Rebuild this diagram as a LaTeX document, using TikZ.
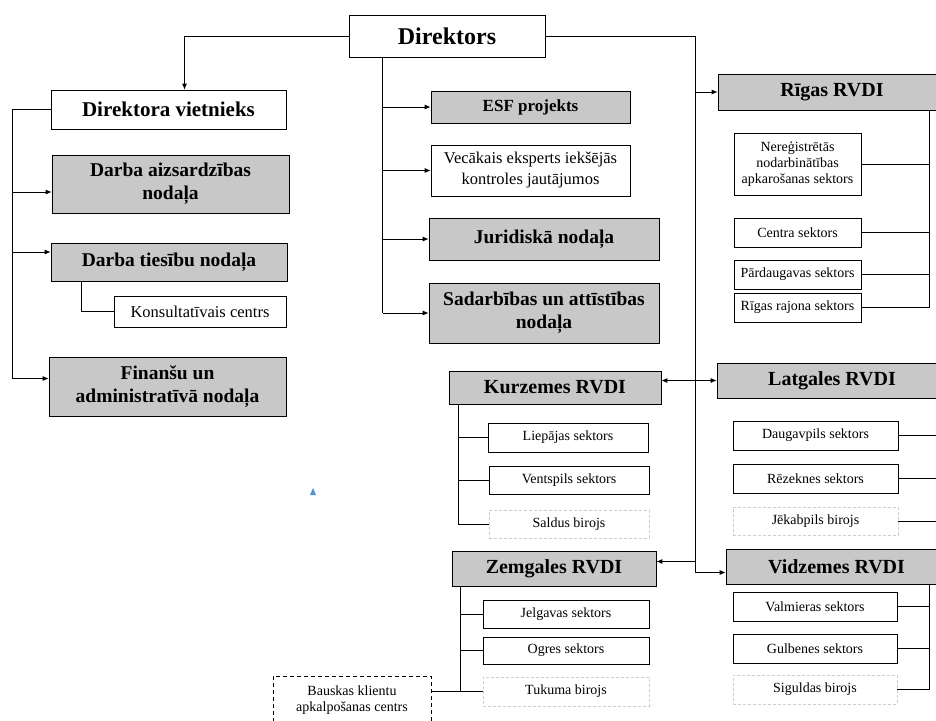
\documentclass[tikz,border=0pt]{standalone}
\usepackage{fontspec}
\setmainfont{Liberation Serif}
\usetikzlibrary{arrows.meta}
\definecolor{boxgray}{RGB}{200,200,200}
\definecolor{lightdash}{RGB}{205,205,205}
\definecolor{markblue}{RGB}{85,145,215}

\tikzset{
  unit/.style={draw, line width=0.7pt, align=center, inner sep=1pt},
  sz/.style 2 args={minimum width=#1pt, minimum height=#2pt},
  head/.style={unit, fill=white, font=\bfseries\fontsize{24}{27}\selectfont},
  dept/.style={unit, fill=boxgray, font=\bfseries\fontsize{19.5}{23}\selectfont},
  rvdi/.style={unit, fill=boxgray, font=\bfseries\fontsize{20}{23}\selectfont},
  post/.style={unit, fill=white, font=\fontsize{16.5}{21}\selectfont},
  sector/.style={unit, fill=white, font=\fontsize{14}{16}\selectfont},
  office/.style={sector, draw=lightdash, dash pattern=on 3pt off 2pt},
  link/.style={line width=0.8pt},
  arr/.style={link, -{Latex[length=6pt,width=5pt]}},
}

\begin{document}
\begin{tikzpicture}[x=1pt, y=-1pt]
  \clip (0,0) rectangle (936,720);

  % top and left column
  \node[head, sz={196}{42}] (dir) at (447,36) {Direktors};
  \node[head, sz={235}{39}, font=\bfseries\fontsize{21}{24}\selectfont] (vietn) at (168.5,109.5) {Direktora vietnieks};
  \node[dept, sz={237}{58}] (daa) at (170.5,184) {Darba aizsardzības\\nodaļa};
  \node[dept, sz={236}{38}] (dtn) at (169,262) {Darba tiesību nodaļa};
  \node[post, sz={172}{31}] (kons) at (200,311.5) {Konsultatīvais centrs};
  \node[dept, sz={237}{59}] (fin) at (167.5,386.5) {Finanšu un\\administratīvā nodaļa};

  % middle column
  \node[dept, sz={199}{32}, font=\bfseries\fontsize{17}{20}\selectfont] (esf) at (530.5,107) {ESF projekts};
  \node[post, sz={199}{51}] (vec) at (530.5,170.5) {Vecākais eksperts iekšējās\\kontroles jautājumos};
  \node[dept, sz={230}{42}] (jur) at (544,239) {Juridiskā nodaļa};
  \node[dept, sz={230}{60}] (sad) at (544,313) {Sadarbības un attīstības\\nodaļa};

  % regions
  \node[rvdi, sz={228}{36}] (rig) at (832,92) {Rīgas RVDI};
  \node[sector, sz={127}{62}] (nereg) at (797.5,164) {Nereģistrētās\\nodarbinātības\\apkarošanas sektors};
  \node[sector, sz={127}{29}] (centra) at (797.5,232.5) {Centra sektors};
  \node[sector, sz={127}{29}] (pard) at (797.5,274.5) {Pārdaugavas sektors};
  \node[sector, sz={127}{29}] (rraj) at (797.5,307.5) {Rīgas rajona sektors};

  \node[rvdi, sz={230}{35}] (lat) at (832,380.5) {Latgales RVDI};
  \node[sector, sz={165}{29}] (daug) at (815.5,435.5) {Daugavpils sektors};
  \node[sector, sz={165}{29}] (rez) at (815.5,478.5) {Rēzeknes sektors};
  \node[office, sz={165}{28}] (jek) at (815.5,521) {Jēkabpils birojs};

  \node[rvdi, sz={212}{33}] (kur) at (555,387.5) {Kurzemes RVDI};
  \node[sector, sz={160}{29}] (liep) at (568,437.5) {Liepājas sektors};
  \node[sector, sz={160}{28}] (vent) at (569,480) {Ventspils sektors};
  \node[office, sz={160}{28}] (sald) at (569,524) {Saldus birojs};

  \node[rvdi, sz={204}{35}] (zem) at (554,568.5) {Zemgales RVDI};
  \node[sector, sz={166}{28}] (jelg) at (566,614) {Jelgavas sektors};
  \node[sector, sz={166}{27}] (ogr) at (566,650.5) {Ogres sektors};
  \node[office, sz={166}{29}] (tuk) at (566,691.5) {Tukuma birojs};
  \node[sector, sz={158}{48}, dash pattern=on 4pt off 3pt] (bau) at (352,700) {Bauskas klientu\\apkalpošanas centrs};

  \node[rvdi, sz={221}{35}] (vid) at (836.5,566.5) {Vidzemes RVDI};
  \node[sector, sz={164}{29}] (valm) at (815,606.5) {Valmieras sektors};
  \node[sector, sz={164}{29}] (gulb) at (815,648.5) {Gulbenes sektors};
  \node[office, sz={164}{29}] (sig) at (815,689.5) {Siguldas birojs};

  % trunks
  \coordinate (ltrunk) at (12,0);
  \coordinate (mtrunk) at ([xshift=34pt]dir.south west);
  \coordinate (rtrunk) at (695,0);
  \coordinate (daain) at ([yshift=-8pt]daa.west);
  \coordinate (dtnin) at ([yshift=10pt]dtn.west);
  \coordinate (finin) at ([yshift=8pt]fin.west);
  \coordinate (vidin) at ([yshift=-6pt]vid.west);
  \coordinate (zemin) at ([yshift=7pt]zem.east);

  \draw[arr] (dir.west) -| ([xshift=16pt]vietn.north);
  \draw[link] (vietn.west) -| (ltrunk |- finin);
  \foreach \t in {daain,dtnin,finin}
    \draw[arr] (ltrunk |- \t) -- (\t);
  \draw[link] ([xshift=31pt]dtn.south west) |- (kons.west);

  \draw[link] (mtrunk) -- (mtrunk |- sad.west);
  \foreach \t in {esf,vec,jur,sad}
    \draw[arr] (mtrunk |- \t.west) -- (\t.west);

  \draw[arr] (dir.east) -| (rtrunk |- vidin) -- (vidin);
  \draw[arr] (rtrunk |- rig.west) -- (rig.west);
  \draw[arr] (rtrunk |- lat.west) -- (lat.west);
  \draw[arr] (rtrunk |- lat.west) -- (kur.east |- lat.west);
  \draw[arr] (rtrunk |- zemin) -- (zemin);

  % sectors
  \coordinate (rgt) at ([xshift=-17pt]rig.south east);
  \draw[link] (rgt) |- (rraj.east);
  \foreach \t in {nereg,centra,pard}
    \draw[link] (\t.east) -- (\t.east -| rgt);

  \coordinate (lgt) at ([xshift=-5pt]lat.south east);
  \draw[link] (lgt) |- (jek.east);
  \foreach \t in {daug,rez}
    \draw[link] (\t.east) -- (\t.east -| lgt);

  \coordinate (kzt) at ([xshift=10pt]kur.south west);
  \draw[link] (kzt) |- (sald.west);
  \foreach \t in {liep,vent}
    \draw[link] (\t.west) -- (\t.west -| kzt);

  \coordinate (zgt) at ([xshift=9pt]zem.south west);
  \draw[link] (zgt) |- (tuk.west);
  \foreach \t in {jelg,ogr}
    \draw[link] (\t.west) -- (\t.west -| zgt);
  \draw[link] (bau.east |- tuk.west) -- (zgt |- tuk.west);

  \coordinate (vdt) at ([xshift=-18pt]vid.south east);
  \draw[link] (vdt) |- (sig.east);
  \foreach \t in {valm,gulb}
    \draw[link] (\t.east) -- (\t.east -| vdt);

  \fill[markblue] (310,495) -- (316,495) -- (313,488) -- cycle;
\end{tikzpicture}
\end{document}
